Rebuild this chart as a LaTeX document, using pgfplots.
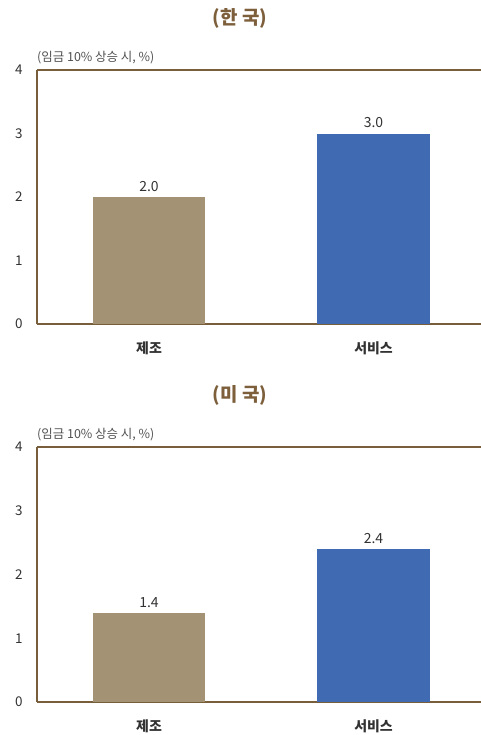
\documentclass[border=0pt]{standalone}
\usepackage{fontspec}
\setmainfont{Noto Sans CJK KR}
\usepackage{pgfplots}
\pgfplotsset{compat=1.18}
\definecolor{axbrown}{RGB}{120,94,58}
\definecolor{titlebrown}{RGB}{125,95,60}
\definecolor{bartan}{RGB}{164,146,116}
\definecolor{barblue}{RGB}{64,106,178}
\definecolor{tickgray}{RGB}{50,50,50}
\definecolor{subgray}{RGB}{80,80,80}
\pgfplotsset{panel/.style={
  scale only axis, width=444bp, height=254bp,
  xmin=-0.4989, xmax=1.4788, ymin=0, ymax=4,
  axis x line=box, axis y line=left,
  axis line style={draw=axbrown, line width=2.2pt, -},
  ytick={0,1,2,3,4}, xtick={0,1}, xticklabels={제조,서비스},
  major tick length=0pt,
  /pgf/number format/assume math mode=true,
  yticklabel style={font=\fontsize{13.5}{15}\selectfont, text=tickgray, xshift=-11bp},
  xticklabel style={font=\fontsize{14}{16}\selectfont\bfseries, text=tickgray, yshift=-14bp},
  ybar, bar width=0.5, bar shift=0pt,
  nodes near coords={\pgfmathprintnumber[fixed, fixed zerofill, precision=1]{\pgfplotspointmeta}},
  every node near coord/.append style={font=\fontsize{14}{16}\selectfont, text=tickgray, yshift=2bp},
  title style={at={(0.457,1)}, anchor=center, yshift=46bp, font=\fontsize{19}{21}\selectfont\bfseries, text=titlebrown},
  clip=false,
}}
\begin{document}
\begin{tikzpicture}
\useasboundingbox (0,0) rectangle (481bp,-735bp);
\begin{axis}[panel, at={(37bp,-324bp)}, anchor=south west, title={(한 국)}]
\addplot[draw=none, fill=bartan, bar shift=0pt] coordinates {(0,2.0)};
\addplot[draw=none, fill=barblue, bar shift=0pt] coordinates {(1,3.0)};
\node[anchor=south west, inner sep=0pt, font=\fontsize{12.5}{14}\selectfont, text=subgray] at (rel axis cs:0,1) [yshift=6bp] {(임금 10\% 상승 시, \%)};
\end{axis}
\begin{axis}[panel, at={(37bp,-702bp)}, anchor=south west, height=255bp, title={(미 국)}]
\addplot[draw=none, fill=bartan, bar shift=0pt] coordinates {(0,1.4)};
\addplot[draw=none, fill=barblue, bar shift=0pt] coordinates {(1,2.4)};
\node[anchor=south west, inner sep=0pt, font=\fontsize{12.5}{14}\selectfont, text=subgray] at (rel axis cs:0,1) [yshift=6bp] {(임금 10\% 상승 시, \%)};
\end{axis}
\end{tikzpicture}
\end{document}
